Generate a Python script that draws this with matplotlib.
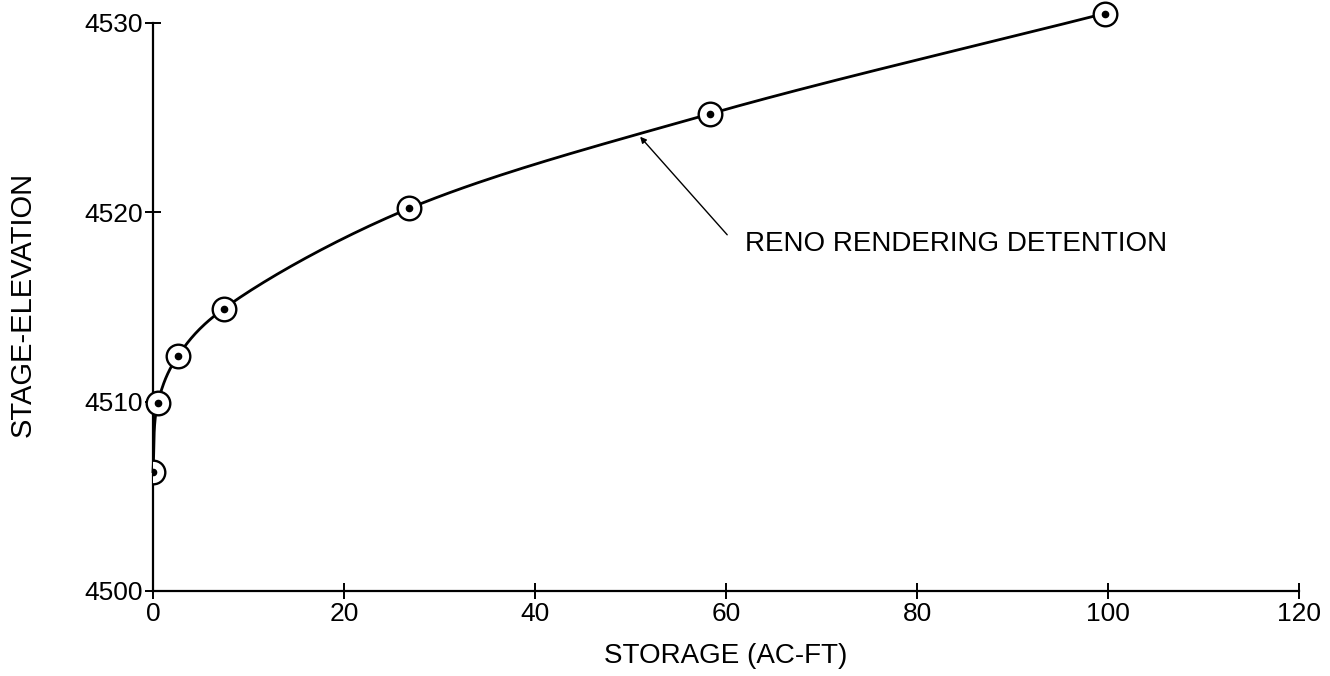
import matplotlib.pyplot as plt
import numpy as np

plt.rcParams['font.family'] = ['Liberation Sans', 'DejaVu Sans']

# stage-storage points
storage = np.array([0.0, 0.5, 2.6, 7.4, 26.8, 58.3, 99.6])
stage = np.array([4506.3, 4509.9, 4512.4, 4514.9, 4520.2, 4525.2, 4530.5])

xticks = [0, 20, 40, 60, 80, 100, 120]
yticks = [4500, 4510, 4520, 4530]
curve_label = 'RENO RENDERING DETENTION'


def smooth_curve(xs, ys, xr, yr, n=40):
    # centripetal catmull-rom through the points, done in axes-fraction space
    P = np.column_stack([xs / xr, (ys - yr[0]) / (yr[1] - yr[0])])
    P = np.vstack([2 * P[0] - P[1], P, 2 * P[-1] - P[-2]])
    out = []
    for i in range(len(P) - 3):
        p0, p1, p2, p3 = P[i], P[i + 1], P[i + 2], P[i + 3]
        t0 = 0.0
        t1 = t0 + np.linalg.norm(p1 - p0) ** 0.5
        t2 = t1 + np.linalg.norm(p2 - p1) ** 0.5
        t3 = t2 + np.linalg.norm(p3 - p2) ** 0.5
        t = np.linspace(t1, t2, n)[:, None]
        a1 = (t1 - t) / (t1 - t0) * p0 + (t - t0) / (t1 - t0) * p1
        a2 = (t2 - t) / (t2 - t1) * p1 + (t - t1) / (t2 - t1) * p2
        a3 = (t3 - t) / (t3 - t2) * p2 + (t - t2) / (t3 - t2) * p3
        b1 = (t2 - t) / (t2 - t0) * a1 + (t - t0) / (t2 - t0) * a2
        b2 = (t3 - t) / (t3 - t1) * a2 + (t - t1) / (t3 - t1) * a3
        c = (t2 - t) / (t2 - t1) * b1 + (t - t1) / (t2 - t1) * b2
        out.append(c)
    out = np.vstack(out)
    return out[:, 0] * xr, out[:, 1] * (yr[1] - yr[0]) + yr[0]


fig = plt.figure(figsize=(13.3, 6.76), dpi=100)
ax = fig.add_axes([0.115, 0.126, 0.862, 0.840])
ax.set_xlim(0, 120)
ax.set_ylim(4500, 4530)

cx, cy = smooth_curve(storage, stage, 120, (4500, 4530))
ax.plot(cx, cy, color='black', lw=2.0, clip_on=False, zorder=2)

# circled-dot markers; the one sitting on the axis gets cut in half
ax.plot(storage[:1], stage[:1], 'o', ms=17, mfc='white', mec='black', mew=1.7, zorder=3)
ax.plot(storage[:1], stage[:1], 'o', ms=4.5, color='black', zorder=4)
ax.plot(storage[1:], stage[1:], 'o', ms=17, mfc='white', mec='black', mew=1.7,
        clip_on=False, zorder=3)
ax.plot(storage[1:], stage[1:], 'o', ms=4.5, color='black', clip_on=False, zorder=4)

ax.annotate('', xy=(50.8, 4524.1), xytext=(60.3, 4518.7),
            arrowprops=dict(arrowstyle='-|>', lw=1.0, color='black', mutation_scale=9))
ax.text(62.0, 4518.3, curve_label, fontsize=20, va='center', ha='left')

for s in ['top', 'right']:
    ax.spines[s].set_visible(False)
for s in ['left', 'bottom']:
    ax.spines[s].set_linewidth(1.6)

ax.set_xticks(xticks)
ax.set_yticks(yticks)
ax.tick_params(axis='both', direction='inout', length=12, width=1.4, labelsize=19)
ax.tick_params(axis='y', pad=1)
ax.tick_params(axis='x', pad=2)

ax.set_xlabel('STORAGE (AC-FT)', fontsize=20, labelpad=12)
fig.text(0.017, 0.55, 'STAGE-ELEVATION', rotation=90, fontsize=21,
         va='center', ha='center')

fig.savefig('out.png', dpi=100)
